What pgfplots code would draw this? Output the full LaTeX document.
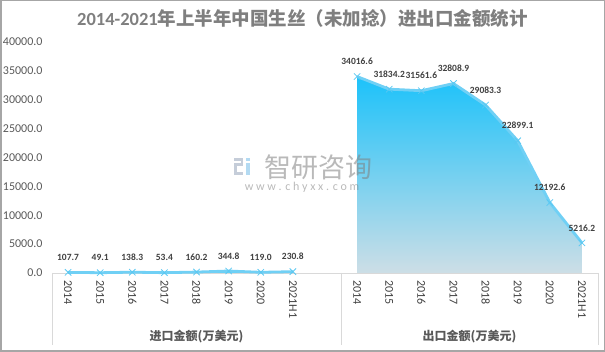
\documentclass[border=0pt]{standalone}
\usepackage{pgfplots}
\pgfplotsset{compat=1.18}
\usepackage{fontspec}
\setmainfont{Carlito}
\newfontfamily\cjk{Noto Sans CJK SC}
\definecolor{titlegray}{HTML}{7F7F7F}
\definecolor{labgray}{HTML}{595959}
\definecolor{darklab}{HTML}{404040}
\definecolor{gtop}{RGB}{28,194,250}
\definecolor{gbot}{RGB}{205,222,230}
\definecolor{lineblue}{RGB}{112,208,245}
\definecolor{markblue}{RGB}{90,200,242}
\definecolor{sepgray}{HTML}{D9D9D9}
\definecolor{framegray}{HTML}{A6A6A6}
\definecolor{logogray}{HTML}{C5CDD9}
\definecolor{logoblue}{HTML}{B3DAF2}
\begin{document}
\begin{tikzpicture}[x=1pt,y=1pt]
\useasboundingbox (0,0) rectangle (605,352);
\begin{axis}[
  at={(52pt,79pt)}, anchor=south west,
  scale only axis, width=546pt, height=231pt,
  xmin=-0.5, xmax=16.5, ymin=0, ymax=40000,
  axis x line*=bottom, axis y line*=left,
  x axis line style={draw=sepgray, line width=0.8pt, -},
  y axis line style={draw=none},
  ytick={0,5000,10000,15000,20000,25000,30000,35000,40000},
  xtick={0,1,2,3,4,5,6,7,9,10,11,12,13,14,15,16},
  xticklabels={2014,2015,2016,2017,2018,2019,2020,2021H1,2014,2015,2016,2017,2018,2019,2020,2021H1},
  major tick length=0pt,
  clip=false,
  scaled y ticks=false,
  yticklabel style={font=\fontsize{12}{14}\selectfont, text=labgray, xshift=-6pt,
    /pgf/number format/.cd, fixed, zerofill, precision=1, 1000 sep={}, assume math mode=true},
  xticklabel style={font=\fontsize{12}{14}\selectfont, text=darklab, rotate=-90, anchor=west},
  xticklabel shift=4pt,
  every node near coord/.append style={anchor=center, yshift=15pt, font=\bfseries\fontsize{9.5}{11}\selectfont, text=darklab},
]
% import area
\addplot[draw=none, fill=gtop!70!white] coordinates {(0,107.7)(1,49.1)(2,138.3)(3,53.4)(4,160.2)(5,344.8)(6,119.0)(7,230.8)} \closedcycle;
% export area
\addplot[draw=none, top color=gtop, bottom color=gbot] coordinates {(9,34016.6)(10,31834.2)(11,31561.6)(12,32808.9)(13,29083.3)(14,22899.1)(15,12192.6)(16,5216.2)} \closedcycle;
% lines with labels
\addplot[color=lineblue, line width=2.8pt, mark=x, mark size=4.5pt, mark options={line width=0.8pt, color=markblue},
  nodes near coords, point meta=explicit symbolic] coordinates {
  (0,107.7)[107.7] (1,49.1)[49.1] (2,138.3)[138.3] (3,53.4)[53.4] (4,160.2)[160.2] (5,344.8)[344.8] (6,119.0)[119.0] (7,230.8)[230.8]};
\addplot[color=lineblue, line width=2.8pt, mark=x, mark size=4.5pt, mark options={line width=0.8pt, color=markblue},
  nodes near coords, point meta=explicit symbolic] coordinates {
  (9,34016.6)[34016.6] (10,31834.2)[31834.2] (11,31561.6)[31561.6] (12,32808.9)[32808.9] (13,29083.3)[29083.3] (14,22899.1)[22899.1] (15,12192.6)[12192.6] (16,5216.2)[5216.2]};
% separators
\draw[sepgray, line width=0.8pt] (axis cs:-0.5,0) -- ([yshift=-72pt]axis cs:-0.5,0);
\draw[sepgray, line width=0.8pt] (axis cs:8.5,0) -- ([yshift=-72pt]axis cs:8.5,0);
\draw[sepgray, line width=0.8pt] (axis cs:16.5,0) -- ([yshift=-72pt]axis cs:16.5,0);
% group labels
\node[text=labgray, font=\cjk\bfseries\fontsize{12}{14}\selectfont] at ([yshift=-64pt]axis cs:4,0) {进口金额(万美元)};
\node[text=labgray, font=\cjk\bfseries\fontsize{12}{14}\selectfont] at ([yshift=-64pt]axis cs:12.5,0) {出口金额(万美元)};
\end{axis}
% watermark logo
\fill[logogray] (234,191) rectangle (243,194);
\fill[logogray] (240.5,186) rectangle (243,194);
\fill[logogray] (234,186) rectangle (243,188.5);
\fill[logogray] (234,177) rectangle (236.5,188.5);
\fill[logogray] (234,177) rectangle (243,179.5);
\fill[logoblue] (246,191) rectangle (249.5,194);
\fill[logoblue] (246,177) rectangle (249.5,189);
\node[text=gray, opacity=0.55, font=\cjk\fontsize{27}{29}\selectfont, anchor=center] at (318,185) {智研咨询};
\node[text=gray, opacity=0.55, font=\fontsize{12}{14}\selectfont, anchor=center] at (302,165) {w w w . c h y x x . c o m};
% title
\node[text=titlegray, anchor=center] at (302.5,334) {\fontsize{18.5}{22}\selectfont\bfseries 2014-2021\cjk 年上半年中国生丝（未加捻）进出口金额统计};
% frame
\draw[framegray, line width=1.5pt] (0.75,0.75) rectangle (604.25,351.25);
\end{tikzpicture}
\end{document}
